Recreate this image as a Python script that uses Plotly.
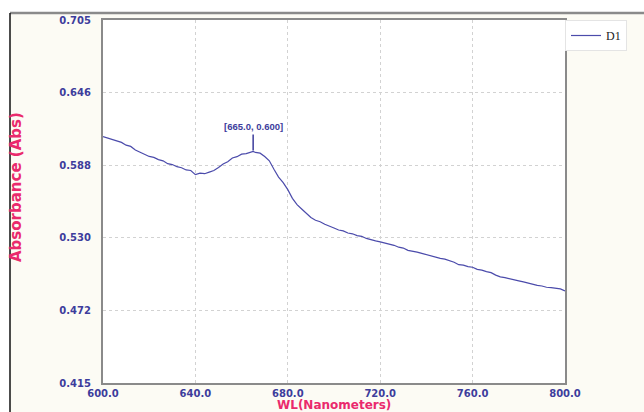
import plotly.graph_objects as go

# Absorbance spectrum, sample D1
wavelength_nm = [
    600, 602, 604, 606, 608, 610, 612, 614, 616, 618,
    620, 622, 624, 626, 628, 630, 632, 634, 636, 638,
    640, 642, 644, 646, 648, 650, 652, 654, 656, 658,
    660, 662, 664, 665, 666, 668, 670, 672, 674, 676,
    678, 680, 682, 684, 686, 688, 690, 692, 694, 696,
    698, 700, 702, 704, 706, 708, 710, 712, 714, 716,
    718, 720, 722, 724, 726, 728, 730, 732, 734, 736,
    738, 740, 742, 744, 746, 748, 750, 752, 754, 756,
    758, 760, 762, 764, 766, 768, 770, 772, 774, 776,
    778, 780, 782, 784, 786, 788, 790, 792, 794, 796,
    798, 800,
]
absorbance = [
    0.6118, 0.6105, 0.6098, 0.6080, 0.6072, 0.6050, 0.6040, 0.6012, 0.5995, 0.5980,
    0.5960, 0.5952, 0.5935, 0.5925, 0.5902, 0.5895, 0.5878, 0.5870, 0.5852, 0.5848,
    0.5815, 0.5826, 0.5822, 0.5835, 0.5848, 0.5872, 0.5900, 0.5918, 0.5948, 0.5958,
    0.5978, 0.5982, 0.5995, 0.6000, 0.5992, 0.5986, 0.5960, 0.5925, 0.5858, 0.5795,
    0.5750, 0.5695, 0.5625, 0.5575, 0.5540, 0.5505, 0.5472, 0.5450, 0.5438, 0.5418,
    0.5400, 0.5388, 0.5372, 0.5365, 0.5348, 0.5342, 0.5328, 0.5322, 0.5305, 0.5298,
    0.5285, 0.5278, 0.5270, 0.5258, 0.5250, 0.5235, 0.5228, 0.5210, 0.5205, 0.5195,
    0.5186, 0.5175, 0.5165, 0.5158, 0.5145, 0.5140, 0.5128, 0.5115, 0.5095, 0.5092,
    0.5080, 0.5075, 0.5058, 0.5052, 0.5040, 0.5032, 0.5012, 0.4998, 0.4992, 0.4982,
    0.4975, 0.4966, 0.4958, 0.4948, 0.4938, 0.4930, 0.4925, 0.4915, 0.4912, 0.4908,
    0.4902, 0.4885,
]
series_name = "D1"

peak_wl = 665.0
peak_abs = 0.600

x_ticks = [600, 640, 680, 720, 760, 800]
x_tick_labels = ["600.0", "640.0", "680.0", "720.0", "760.0", "800.0"]
y_ticks = [0.415, 0.473, 0.531, 0.589, 0.647, 0.705]
y_tick_labels = ["0.415", "0.472", "0.530", "0.588", "0.646", "0.705"]

LINE = "#4b4bab"
TICK = "#3d3d9c"
TITLE = "#ea2a6c"
FRAME = "#8a8a8a"
CREAM = "#fcfbf4"

fig = go.Figure()
fig.add_trace(go.Scatter(
    x=wavelength_nm, y=absorbance, mode="lines", name=series_name,
    line=dict(color=LINE, width=1.2),
))

axis_common = dict(
    showline=True, mirror=True, linecolor=FRAME, linewidth=2,
    showgrid=True, gridcolor="#d2d2d2", gridwidth=1, griddash="dot",
    zeroline=False, ticks="", tickmode="array",
    tickfont=dict(family="DejaVu Sans", size=10, color=TICK, weight="bold"),
)
fig.update_xaxes(range=[600, 800], tickvals=x_ticks, ticktext=x_tick_labels, **axis_common)
fig.update_yaxes(range=[0.415, 0.705], tickvals=y_ticks, ticktext=y_tick_labels,
                 ticklabelstandoff=8, **axis_common)

# outer panel frame: white strip above and left, gray top rule, black left rule
fl = (10 - 103) / 462
ft = (383 - 13) / 363
fig.add_shape(type="rect", xref="paper", yref="paper", x0=-0.4, x1=1.4, y0=ft, y1=1.2,
              fillcolor="white", line=dict(width=0), layer="below")
fig.add_shape(type="rect", xref="paper", yref="paper", x0=-0.4, x1=fl, y0=-0.3, y1=1.2,
              fillcolor="white", line=dict(width=0), layer="below")
fig.add_shape(type="line", xref="paper", yref="paper", x0=fl, x1=1.4, y0=ft, y1=ft,
              line=dict(color=FRAME, width=2.5))
fig.add_shape(type="line", xref="paper", yref="paper", x0=fl, x1=fl, y0=-0.3, y1=ft,
              line=dict(color="#111111", width=1.5))

# peak marker
fig.add_annotation(
    x=peak_wl, y=peak_abs, xref="x", yref="y",
    text=f"[{peak_wl:.1f}, {peak_abs:.3f}]",
    showarrow=True, arrowhead=0, arrowwidth=1.5, arrowcolor=TICK,
    ax=0, ay=-17, standoff=1,
    font=dict(family="Liberation Sans", size=9.5, color=TICK, weight="bold"),
    yanchor="bottom",
)

# axis titles
fig.add_annotation(
    text="Absorbance (Abs)", xref="paper", yref="paper",
    x=(16 - 103) / 462, y=(383 - 187) / 363, textangle=-90, showarrow=False,
    font=dict(family="DejaVu Sans", size=15, color=TITLE, weight="bold"),
    xanchor="center", yanchor="middle",
)
fig.add_annotation(
    text="WL(Nanometers)", xref="paper", yref="paper",
    x=0.5, y=(383 - 405) / 363, showarrow=False,
    font=dict(family="DejaVu Sans", size=12, color=TITLE, weight="bold"),
    xanchor="center", yanchor="middle",
)

fig.update_layout(
    width=644, height=412,
    margin=dict(l=103, r=79, t=20, b=29),
    paper_bgcolor=CREAM, plot_bgcolor="white",
    showlegend=True,
    legend=dict(
        x=1.0, y=1.0, xanchor="left", yanchor="top",
        bgcolor="white", bordercolor="#e4e4e4", borderwidth=1,
        font=dict(family="Liberation Serif", size=12, color="#222222"),
        itemwidth=30,
    ),
)

fig.write_html("out.html")
